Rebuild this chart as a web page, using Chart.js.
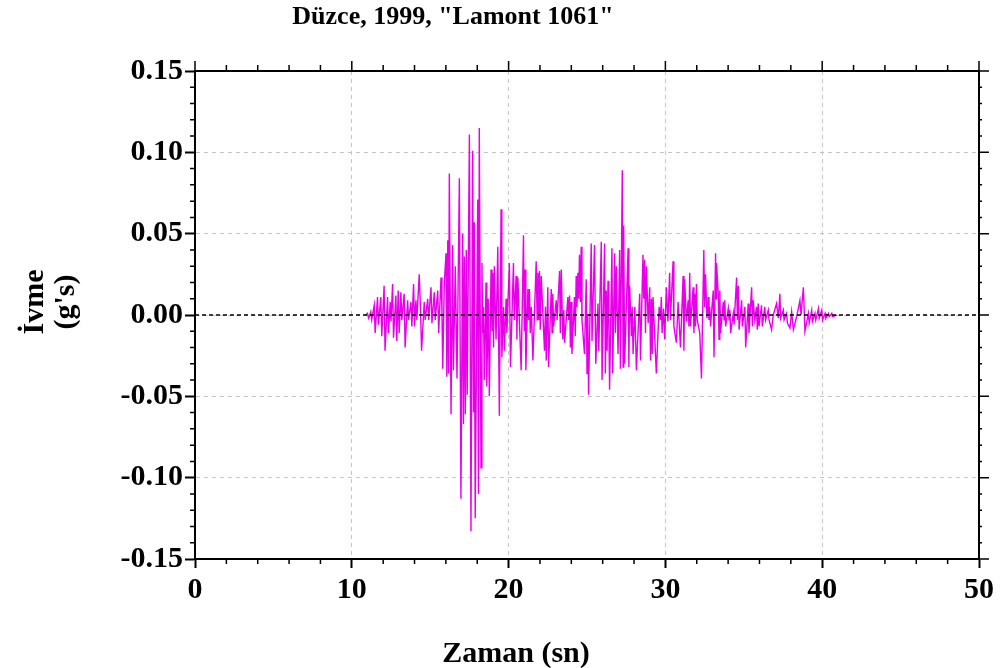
<!DOCTYPE html>
<html>
<head>
<meta charset="utf-8">
<title>Düzce, 1999, "Lamont 1061"</title>
<script src="https://cdn.jsdelivr.net/npm/chart.js@4.4.1/dist/chart.umd.min.js"></script>
<style>
  html, body { margin: 0; padding: 0; background: #fff; }
  #lienzo { position: relative; width: 1003px; height: 668px; overflow: hidden;
            font-family: 'Liberation Serif', 'Times New Roman', serif; font-weight: bold; color: #000; }
  #grafico { position: absolute; left: 0; top: 0; }
  .texto { position: absolute; white-space: nowrap; text-align: center; }
  #titulo { left: 203px; width: 500px; top: 3px; font-size: 26px; line-height: 26px; }
  #tituloX { left: 316px; width: 400px; top: 637px; font-size: 30px; line-height: 30px; }
  #tituloY { left: -52px; width: 200px; top: 271px; height: 62px; font-size: 30px; line-height: 31px;
             transform: rotate(-90deg); }
</style>
</head>
<body>
<div id="lienzo">
  <canvas id="grafico" width="1003" height="668"></canvas>
  <div class="texto" id="titulo">Düzce, 1999, "Lamont 1061"</div>
  <div class="texto" id="tituloX">Zaman (sn)</div>
  <div class="texto" id="tituloY">İvme<br>(g's)</div>
</div>
<script>
// zaman (sn) - ivme (g) okunan tepe noktalari
const tiempos = [
  10.90, 11.00, 11.08, 11.21, 11.27, 11.43, 11.49, 11.64, 11.70, 11.85,
  11.91, 12.06, 12.12, 12.28, 12.34, 12.45, 12.50, 12.60, 12.66, 12.81,
  12.87, 12.96, 13.02, 13.13, 13.19, 13.34, 13.40, 13.56, 13.62, 13.77,
  13.83, 13.94, 14.00, 14.09, 14.15, 14.30, 14.38, 14.45, 14.62, 14.68,
  14.84, 14.90, 15.05, 15.11, 15.26, 15.32, 15.48, 15.54, 15.69, 15.75,
  15.80, 15.90, 16.01, 16.06, 16.12, 16.17, 16.22, 16.33, 16.43, 16.48,
  16.60, 16.71, 16.86, 16.96, 17.07, 17.12, 17.18, 17.24, 17.30, 17.36,
  17.50, 17.60, 17.71, 17.76, 17.81, 17.87, 18.03, 18.08, 18.13, 18.24,
  18.30, 18.35, 18.40, 18.45, 18.56, 18.61, 18.70, 18.77, 18.88, 18.94,
  18.99, 19.04, 19.09, 19.20, 19.31, 19.41, 19.52, 19.57, 19.68, 19.73,
  19.84, 19.89, 20.05, 20.12, 20.31, 20.36, 20.48, 20.53, 20.59, 20.80,
  20.95, 21.00, 21.05, 21.10, 21.23, 21.28, 21.33, 21.38, 21.45, 21.55,
  21.76, 21.82, 21.87, 21.92, 21.97, 22.02, 22.08, 22.29, 22.35, 22.40,
  22.50, 22.55, 22.72, 22.77, 22.82, 22.87, 23.04, 23.09, 23.25, 23.30,
  23.36, 23.46, 23.52, 23.57, 23.78, 23.83, 23.89, 23.94, 23.99, 24.04,
  24.20, 24.25, 24.31, 24.36, 24.42, 24.47, 24.52, 24.58, 24.63, 24.68,
  24.84, 24.95, 25.00, 25.05, 25.10, 25.27, 25.32, 25.48, 25.56, 25.70,
  25.75, 25.91, 25.96, 26.12, 26.17, 26.23, 26.28, 26.34, 26.39, 26.44,
  26.59, 26.64, 26.76, 26.81, 26.87, 26.98, 27.08, 27.13, 27.25, 27.30,
  27.34, 27.40, 27.62, 27.67, 27.72, 27.83, 27.88, 27.94, 28.05, 28.15,
  28.36, 28.41, 28.57, 28.62, 28.68, 28.73, 28.79, 28.90, 29.00, 29.05,
  29.11, 29.16, 29.21, 29.42, 29.60, 29.69, 29.74, 29.79, 29.88, 29.96,
  30.06, 30.16, 30.27, 30.32, 30.49, 30.54, 30.70, 30.81, 30.96, 31.13,
  31.18, 31.23, 31.34, 31.45, 31.50, 31.55, 31.60, 31.77, 31.82, 31.87,
  31.92, 31.98, 32.03, 32.19, 32.30, 32.45, 32.50, 32.56, 32.65, 32.73,
  32.78, 32.83, 32.88, 33.05, 33.10, 33.20, 33.23, 33.26, 33.37, 33.42,
  33.47, 33.52, 33.69, 33.74, 33.79, 33.84, 34.01, 34.06, 34.11, 34.16,
  34.33, 34.38, 34.54, 34.59, 34.65, 34.70, 34.86, 34.91, 35.07, 35.12,
  35.28, 35.33, 35.50, 35.55, 35.60, 35.70, 35.81, 35.86, 35.92, 35.97,
  36.13, 36.18, 36.34, 36.39, 36.56, 36.61, 36.77, 36.88, 37.09, 37.20,
  37.30, 37.35, 37.52, 37.57, 37.73, 37.78, 37.94, 38.05, 38.16, 38.37,
  38.58, 38.65, 38.80, 38.90, 39.12, 39.17, 39.33, 39.38, 39.54, 39.59,
  39.76, 39.81, 39.97, 40.02, 40.18, 40.23, 40.40, 40.45, 40.61, 40.66,
  40.93
];
const ivmes = [
  0.000, 0.001, -0.002, 0.002, -0.003, 0.006, -0.011, 0.011, -0.006, 0.011,
  -0.013, 0.018, -0.022, 0.011, -0.011, 0.008, -0.004, 0.019, -0.014, 0.012,
  -0.016, 0.015, -0.011, 0.014, -0.003, 0.013, -0.020, 0.009, -0.003, 0.008,
  -0.007, 0.019, -0.007, 0.009, -0.003, 0.025, 0.004, -0.022, 0.008, -0.003,
  0.010, -0.003, 0.017, -0.005, 0.014, -0.003, 0.015, -0.011, 0.023, 0.002,
  -0.033, 0.020, 0.038, -0.038, 0.046, -0.036, 0.087, -0.061, 0.043, -0.034,
  0.030, -0.039, 0.084, -0.113, 0.050, -0.067, 0.036, -0.061, 0.040, -0.049,
  0.111, -0.133, 0.101, -0.060, 0.057, -0.125, 0.071, -0.110, 0.115, -0.094,
  0.032, -0.011, 0.005, -0.040, 0.020, -0.044, 0.010, -0.050, 0.028, -0.010,
  0.026, -0.020, 0.030, -0.015, 0.042, -0.062, 0.065, -0.026, 0.005, -0.022,
  0.010, -0.011, 0.032, -0.032, 0.032, -0.003, 0.024, -0.015, 0.023, -0.034,
  0.049, -0.010, 0.028, -0.034, 0.016, -0.003, 0.016, -0.011, 0.005, -0.028,
  0.033, -0.003, 0.026, -0.003, 0.027, -0.009, 0.024, -0.022, 0.005, -0.028,
  0.017, -0.032, 0.016, -0.011, 0.013, -0.007, 0.009, -0.003, 0.027, -0.011,
  0.028, -0.015, 0.003, -0.017, 0.011, -0.003, 0.012, -0.020, 0.008, -0.024,
  0.011, -0.013, 0.024, 0.005, 0.026, 0.010, 0.037, 0.008, 0.042, -0.003,
  -0.024, 0.022, -0.036, 0.000, -0.049, 0.044, -0.016, 0.043, -0.030, 0.007,
  -0.022, 0.045, -0.040, 0.044, -0.036, 0.015, -0.022, 0.021, -0.003, -0.046,
  0.041, -0.036, 0.038, -0.011, 0.030, -0.024, 0.040, -0.033, 0.089, -0.032,
  0.055, -0.030, 0.041, -0.032, 0.018, -0.013, 0.005, -0.024, 0.005, -0.034,
  0.013, -0.028, 0.037, 0.010, 0.034, -0.011, 0.030, -0.005, 0.017, -0.028,
  0.010, -0.024, 0.011, -0.036, 0.005, -0.003, 0.011, -0.011, 0.004, -0.015,
  0.017, -0.004, 0.026, -0.003, 0.033, -0.007, -0.017, 0.008, -0.020, 0.024,
  -0.022, 0.022, -0.004, 0.009, -0.007, 0.026, -0.007, 0.017, -0.011, 0.013,
  -0.007, 0.019, -0.003, -0.011, -0.039, 0.040, 0.005, 0.025, -0.002, 0.011,
  -0.003, 0.005, -0.007, 0.015, -0.026, 0.038, 0.010, 0.032, 0.013, -0.015,
  0.015, -0.011, 0.008, -0.003, 0.009, -0.007, 0.004, -0.003, 0.003, -0.011,
  0.001, -0.006, 0.023, -0.003, 0.018, -0.009, 0.009, -0.007, 0.005, -0.020,
  0.007, -0.011, 0.017, -0.007, 0.009, -0.003, 0.005, -0.009, 0.007, -0.007,
  0.006, -0.007, 0.005, -0.003, 0.003, -0.003, -0.009, 0.000, 0.007, -0.002,
  0.013, -0.002, 0.003, -0.003, 0.001, -0.005, -0.008, 0.002, -0.009, -0.001,
  0.009, 0.000, 0.017, -0.010, 0.001, -0.005, 0.003, -0.004, 0.001, -0.003,
  0.004, -0.002, 0.003, -0.003, 0.001, -0.002, 0.001, -0.001, 0.001, -0.001,
  0.000
];
// eksen etiketleri
const marcasX = [0, 10, 20, 30, 40, 50];
const marcasY = [-0.15, -0.10, -0.05, 0.00, 0.05, 0.10, 0.15];
const lineaCero = [0, 0];
const limitesX = [0, 50];

const fuenteEje = { family: "'Liberation Serif', 'Times New Roman', serif", size: 30, weight: 'bold' };
const gris = '#c4c4c4';

// ara cizgiler (minor ticks) ve ust/sag cerceve
const marcoEjes = {
  id: 'marcoEjes',
  afterDraw(chart) {
    const { ctx, chartArea: a, scales: { x, y } } = chart;
    ctx.save();
    ctx.strokeStyle = '#000';
    ctx.lineWidth = 2;
    ctx.beginPath();
    ctx.moveTo(a.left, a.top);
    ctx.lineTo(a.right, a.top);
    ctx.lineTo(a.right, a.bottom);
    ctx.stroke();
    ctx.lineWidth = 1.5;
    ctx.beginPath();
    for (let t = 0; t <= 50; t += 2) {
      const px = x.getPixelForValue(t);
      const mayor = t % 10 === 0;
      ctx.moveTo(px, a.top);
      ctx.lineTo(px, a.top - (mayor ? 10 : 6));
      if (!mayor) {
        ctx.moveTo(px, a.bottom);
        ctx.lineTo(px, a.bottom + 5);
      }
    }
    for (let k = -15; k <= 15; k++) {
      const py = y.getPixelForValue(k / 100);
      const mayor = k % 5 === 0;
      if (!mayor) {
        ctx.moveTo(a.left, py);
        ctx.lineTo(a.left - 5, py);
      }
      ctx.moveTo(a.right, py);
      ctx.lineTo(a.right + (mayor ? 10 : 3), py);
    }
    ctx.stroke();
    ctx.restore();
  }
};

new Chart(document.getElementById('grafico'), {
  type: 'line',
  data: {
    datasets: [
      {
        label: 'İvme',
        data: tiempos.map((t, i) => ({ x: t, y: ivmes[i] })),
        borderColor: '#e800e8',
        borderWidth: 1.4,
        pointRadius: 0,
        tension: 0,
        order: 1
      },
      {
        label: '0',
        data: limitesX.map((t, i) => ({ x: t, y: lineaCero[i] })),
        borderColor: '#000',
        borderWidth: 1.3,
        borderDash: [4, 3],
        pointRadius: 0,
        order: 0
      }
    ]
  },
  options: {
    responsive: false,
    devicePixelRatio: 1,
    animation: false,
    layout: { padding: { left: 0, right: 24, top: 71, bottom: 0 } },
    plugins: {
      legend: { display: false },
      tooltip: { enabled: false },
      title: { display: false }
    },
    scales: {
      x: {
        type: 'linear',
        min: limitesX[0],
        max: limitesX[1],
        afterBuildTicks: s => { s.ticks = marcasX.map(v => ({ value: v })); },
        afterFit: s => { s.height = 109; },
        grid: {
          color: c => (c.index === 0 || c.index === marcasX.length - 1) ? 'rgba(0,0,0,0)' : gris,
          lineWidth: 1,
          tickColor: '#000',
          tickLength: 9,
          tickWidth: 2
        },
        border: { color: '#000', width: 2, dash: [4, 4] },
        ticks: {
          color: '#000',
          font: fuenteEje,
          padding: 4,
          maxRotation: 0,
          autoSkip: false,
          callback: v => String(v)
        }
      },
      y: {
        type: 'linear',
        min: marcasY[0],
        max: marcasY[marcasY.length - 1],
        afterBuildTicks: s => { s.ticks = marcasY.map(v => ({ value: v })); },
        afterFit: s => { s.width = 195; },
        grid: {
          color: c => (c.index === 0 || c.index === marcasY.length - 1) ? 'rgba(0,0,0,0)' : gris,
          lineWidth: 1,
          tickColor: '#000',
          tickLength: 10,
          tickWidth: 2
        },
        border: { color: '#000', width: 2, dash: [4, 4] },
        ticks: {
          color: '#000',
          font: fuenteEje,
          padding: 2,
          autoSkip: false,
          callback: v => (Math.abs(v) < 1e-9 ? 0 : v).toFixed(2)
        }
      }
    }
  },
  plugins: [marcoEjes]
});
</script>
</body>
</html>
